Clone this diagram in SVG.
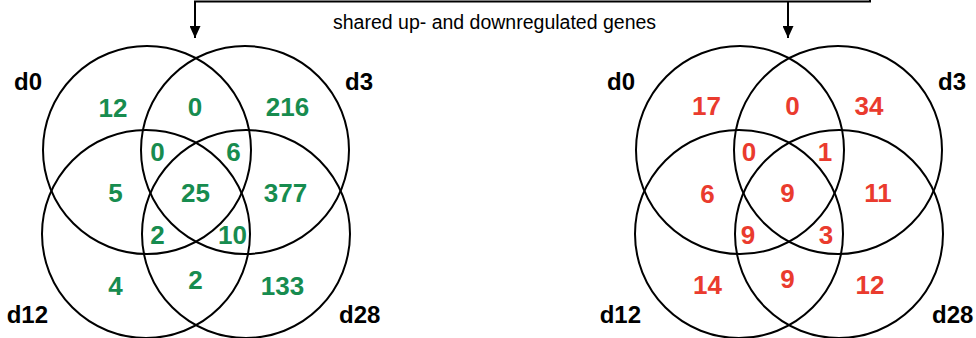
<svg xmlns="http://www.w3.org/2000/svg" width="976" height="338" viewBox="0 0 976 338">
<style>
.c{fill:none;stroke:#000;stroke-width:2}
.lbl{font-family:"Liberation Sans",Arial,sans-serif;font-weight:bold;font-size:24px;fill:#000}
.g{font-family:"Liberation Sans",Arial,sans-serif;font-weight:bold;font-size:26px;fill:#178c4f;text-anchor:middle}
.r{font-family:"Liberation Sans",Arial,sans-serif;font-weight:bold;font-size:26px;fill:#ea3b2e;text-anchor:middle}
.t{font-family:"Liberation Sans",Arial,sans-serif;font-size:19.5px;fill:#000}
.ln{fill:none;stroke:#000;stroke-width:2}
</style>
<defs>
<marker id="ah" viewBox="0 0 12 11" refX="12" refY="5.5" markerWidth="12" markerHeight="11" markerUnits="userSpaceOnUse" orient="auto">
<path d="M0,0 L12,5.5 L0,11 Z" fill="#000"/>
</marker>
</defs>
<g id="connectors">
<path class="ln" d="M870,-5 V1.5 H195 V38" marker-end="url(#ah)"/>
<path class="ln" d="M788,1.5 V38" marker-end="url(#ah)"/>
</g>
<text class="t" x="333" y="29">shared up- and downregulated genes</text>
<g id="venn-left">
<g id="left-d0"><circle class="c" cx="147" cy="150" r="104"/><text class="lbl" x="42" y="90" text-anchor="end">d0</text></g>
<g id="left-d3"><circle class="c" cx="245" cy="150" r="104"/><text class="lbl" x="345" y="90">d3</text></g>
<g id="left-d12"><circle class="c" cx="146" cy="234" r="104"/><text class="lbl" x="48" y="323" text-anchor="end">d12</text></g>
<g id="left-d28"><circle class="c" cx="246" cy="234" r="104"/><text class="lbl" x="339" y="323">d28</text></g>
<g id="left-counts">
<text class="g" x="113" y="117">12</text>
<text class="g" x="195" y="116">0</text>
<text class="g" x="287.5" y="116">216</text>
<text class="g" x="157.5" y="161">0</text>
<text class="g" x="233.5" y="161">6</text>
<text class="g" x="115.5" y="202">5</text>
<text class="g" x="195.5" y="202">25</text>
<text class="g" x="285.5" y="202">377</text>
<text class="g" x="157.5" y="244">2</text>
<text class="g" x="232.5" y="244">10</text>
<text class="g" x="115.5" y="295">4</text>
<text class="g" x="195.5" y="289">2</text>
<text class="g" x="282.5" y="295">133</text>
</g>
</g>
<g id="venn-right">
<g id="right-d0"><circle class="c" cx="740" cy="150" r="104"/><text class="lbl" x="635" y="90" text-anchor="end">d0</text></g>
<g id="right-d3"><circle class="c" cx="838" cy="150" r="104"/><text class="lbl" x="938" y="90">d3</text></g>
<g id="right-d12"><circle class="c" cx="739" cy="234" r="104"/><text class="lbl" x="641" y="323" text-anchor="end">d12</text></g>
<g id="right-d28"><circle class="c" cx="839" cy="234" r="104"/><text class="lbl" x="932" y="323">d28</text></g>
<g id="right-counts">
<text class="r" x="706.5" y="115">17</text>
<text class="r" x="792.5" y="115">0</text>
<text class="r" x="869" y="115">34</text>
<text class="r" x="749" y="161">0</text>
<text class="r" x="825" y="161">1</text>
<text class="r" x="707.5" y="203">6</text>
<text class="r" x="787.5" y="202">9</text>
<text class="r" x="878" y="202">11</text>
<text class="r" x="748" y="244">9</text>
<text class="r" x="826" y="244">3</text>
<text class="r" x="707.5" y="294">14</text>
<text class="r" x="787.5" y="288">9</text>
<text class="r" x="870" y="294">12</text>
</g>
</g>
</svg>
